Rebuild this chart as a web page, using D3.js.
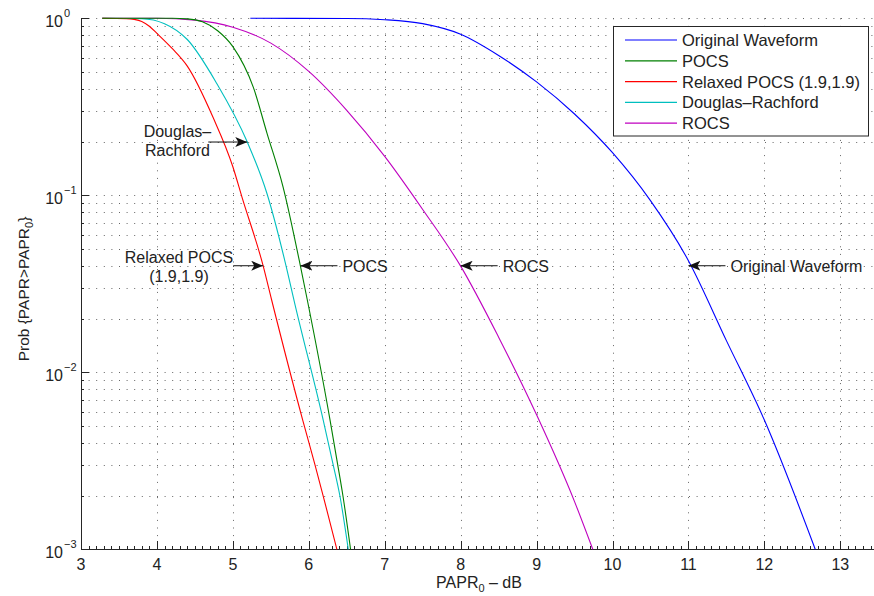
<!DOCTYPE html>
<html>
<head>
<meta charset="utf-8">
<script src="https://cdn.jsdelivr.net/npm/d3@7"></script>
<style>
  html, body { margin: 0; padding: 0; background: #fff; }
  svg { display: block; font-family: "Liberation Sans", Arial, Helvetica, sans-serif; }
</style>
</head>
<body>
<svg id="chart" width="874" height="596"></svg>
<script>
// ---------- data ----------
const seriesNames = ["Original Waveform", "POCS", "Relaxed POCS (1.9,1.9)", "Douglas\u2013Rachford", "ROCS"];
const seriesColors = ["#0000ff", "#007f00", "#ff0000", "#00bfbf", "#bf00bf"];

const origX = [5.23, 6.5, 7.0, 7.5, 8.0, 8.5, 9.0, 9.5, 10.0, 10.5, 11.0, 11.5, 12.0, 12.67];
const origP = [1, 0.998, 0.982, 0.933, 0.813, 0.617, 0.437, 0.288, 0.174, 0.0933, 0.0427, 0.0151, 0.00537, 0.001];

const pocsX = [3.28, 4.2, 4.4, 4.6, 4.8, 5.0, 5.27, 5.45, 5.66, 5.89, 5.98, 6.28, 6.38, 6.45, 6.55];
const pocsP = [1, 1, 0.993, 0.955, 0.851, 0.692, 0.407, 0.224, 0.112, 0.0398, 0.0257, 0.00537, 0.00302, 0.002, 0.001];

const relaxX = [3.28, 3.6, 3.7, 3.8, 3.9, 4.0, 4.2, 4.4, 4.74, 5.0, 5.12, 5.40, 5.51, 5.92, 6.08, 6.19, 6.37];
const relaxP = [1, 0.995, 0.986, 0.96, 0.902, 0.822, 0.676, 0.537, 0.275, 0.145, 0.0977, 0.0398, 0.0257, 0.00537, 0.00302, 0.002, 0.001];

const drX = [3.28, 3.8, 4.1, 4.4, 4.79, 5.19, 5.45, 5.69, 5.82, 6.19, 6.32, 6.41, 6.52];
const drP = [1, 0.995, 0.933, 0.759, 0.427, 0.2, 0.102, 0.0417, 0.024, 0.00537, 0.00302, 0.002, 0.001];

const rocsX = [3.28, 4.0, 4.5, 5.0, 5.5, 6.0, 6.5, 7.0, 7.5, 8.0, 8.5, 9.0, 9.5, 9.74];
const rocsP = [1, 1, 0.977, 0.891, 0.724, 0.501, 0.302, 0.166, 0.0832, 0.0398, 0.0158, 0.00575, 0.00186, 0.001];

const xTicks = [3, 4, 5, 6, 7, 8, 9, 10, 11, 12, 13];
const yTicks = [1e-3, 1e-2, 1e-1, 1];
const yTickExp = ["\u22123", "\u22122", "\u22121", "0"];

// annotations: label lines, arrow target (data coords), direction
const annotations = [
  { lines: ["Douglas\u2013", "Rachford"], x: 5.19, p: 0.2, dir: "right" },
  { lines: ["Relaxed POCS", "(1.9,1.9)"], x: 5.40, p: 0.04, dir: "right" },
  { lines: ["POCS"], x: 5.89, p: 0.04, dir: "left" },
  { lines: ["ROCS"], x: 8.0, p: 0.04, dir: "left" },
  { lines: ["Original Waveform"], x: 11.0, p: 0.04, dir: "left" }
];

(function () {
// ---------- layout ----------
const svg = d3.select("#chart");
const pL = 81, pT = 18.3, pB = 549.3, pR = 874;
const pxPerUnit = 75.93;
const x = d3.scaleLinear().domain([3, 13.5]).range([pL, pL + 10.5 * pxPerUnit]);
const y = d3.scaleLog().domain([1e-3, 1]).range([pB, pT]);
const textColor = "#222";
const fontSize = 16;

// ---------- grid ----------
const grid = svg.append("g").attr("stroke", "#666").attr("stroke-width", 1)
  .attr("stroke-dasharray", "1 6.6").attr("fill", "none");
const yGridVals = [];
[1e-3, 1e-2, 1e-1].forEach(d => { for (let k = 1; k <= 9; k++) yGridVals.push(d * k); });
yGridVals.push(1);
yGridVals.forEach(v => {
  if (v === 1e-3) return;
  const yy = Math.round(y(v)) + 0.5;
  grid.append("line").attr("x1", pL).attr("x2", pR).attr("y1", yy).attr("y2", yy);
});
xTicks.forEach(v => {
  if (v === 3) return;
  const xx = Math.round(x(v)) + 0.5;
  grid.append("line").attr("x1", xx).attr("x2", xx).attr("y1", pT).attr("y2", pB);
});

// ---------- axes ----------
const axisG = svg.append("g").attr("stroke", "#262626").attr("stroke-width", 1);
axisG.append("line").attr("x1", pL).attr("x2", pR)
  .attr("y1", Math.round(pB) + 0.5).attr("y2", Math.round(pB) + 0.5);
axisG.append("line").attr("x1", pL + 0.5).attr("x2", pL + 0.5)
  .attr("y1", pT).attr("y2", pB + 0.5);

// x minor ticks every 0.1
d3.range(30, 136).map(i => i / 10).forEach(v => {
  const xx = Math.round(x(v)) + 0.5;
  if (xx > pR) return;
  axisG.append("line").attr("x1", xx).attr("x2", xx)
    .attr("y1", Math.round(pB)).attr("y2", Math.round(pB) - 3);
});
// x major ticks + labels
xTicks.forEach(v => {
  const xx = Math.round(x(v)) + 0.5;
  axisG.append("line").attr("x1", xx).attr("x2", xx)
    .attr("y1", Math.round(pB)).attr("y2", Math.round(pB) - 8);
  svg.append("text").attr("x", x(v)).attr("y", pB + 21)
    .attr("text-anchor", "middle").attr("font-size", fontSize).attr("fill", textColor)
    .text(v);
});
// y ticks
yGridVals.forEach(v => {
  const yy = Math.round(y(v)) + 0.5;
  const isMajor = yTicks.some(t => Math.abs(t - v) / t < 1e-9);
  axisG.append("line").attr("x1", pL).attr("x2", pL + (isMajor ? 8 : 3))
    .attr("y1", yy).attr("y2", yy);
});
// y labels
yTicks.forEach((v, i) => {
  const yy = y(v);
  svg.append("text").attr("x", 63).attr("y", yy + 8.5)
    .attr("text-anchor", "end").attr("font-size", fontSize).attr("fill", textColor).text("10");
  svg.append("text").attr("x", 64).attr("y", yy - 1.5)
    .attr("text-anchor", "start").attr("font-size", 11).attr("fill", textColor).text(yTickExp[i]);
});

// axis titles
const xl = svg.append("text").attr("x", 479).attr("y", 588).attr("text-anchor", "middle")
  .attr("font-size", fontSize).attr("fill", textColor);
xl.append("tspan").text("PAPR");
xl.append("tspan").attr("font-size", 11).attr("dy", 4).text("0");
xl.append("tspan").attr("dy", -4).text(" \u2013 dB");

const yl = svg.append("text").attr("transform", "translate(29,289) rotate(-90)")
  .attr("text-anchor", "middle").attr("font-size", 15.5).attr("fill", textColor);
yl.append("tspan").text("Prob {PAPR>PAPR");
yl.append("tspan").attr("font-size", 11).attr("dy", 4).text("0");
yl.append("tspan").attr("dy", -4).text("}");

// ---------- curves ----------
const allSeries = [
  { xs: origX, ps: origP },
  { xs: pocsX, ps: pocsP },
  { xs: relaxX, ps: relaxP },
  { xs: drX, ps: drP },
  { xs: rocsX, ps: rocsP }
];
const line = d3.line().x(d => x(d[0])).y(d => y(d[1])).curve(d3.curveMonotoneX);
[4, 3, 2, 1, 0].forEach(i => {
  const s = allSeries[i];
  const pts = s.xs.map((xv, j) => [xv, s.ps[j]]);
  svg.append("path").attr("d", line(pts)).attr("fill", "none")
    .attr("stroke", seriesColors[i]).attr("stroke-width", 1.1);
});

// ---------- annotations ----------
const defs = svg.append("defs");
defs.append("marker").attr("id", "ah").attr("viewBox", "0 0 12 10")
  .attr("refX", 12).attr("refY", 5).attr("markerWidth", 12).attr("markerHeight", 10)
  .attr("markerUnits", "userSpaceOnUse").attr("orient", "auto")
  .append("path").attr("d", "M0,0 L12,5 L0,10 L3,5 Z").attr("fill", "#111");

annotations.forEach(a => {
  const tx = x(a.x), ty = y(a.p);
  const twoLong = a.lines[0].length > 9;
  const len = (a.dir === "right") ? (twoLong ? 30 : 39) : 37;
  if (a.dir === "right") {
    const x0 = tx - len;
    svg.append("line").attr("x1", x0).attr("y1", ty).attr("x2", tx).attr("y2", ty)
      .attr("stroke", "#111").attr("stroke-width", 1).attr("marker-end", "url(#ah)");
    const t = svg.append("text").attr("font-size", fontSize).attr("fill", textColor)
      .attr("text-anchor", "middle");
    a.lines.forEach((ln, k) => {
      t.append("tspan").attr("x", 0).attr("y", 0).attr("dy", k * 19).text(ln);
    });
    const w = t.node().getBBox().width;
    const cx = x0 - w / 2 + (twoLong ? 0 : 3);
    const by = twoLong ? ty - 3 : ty - 5;
    t.selectAll("tspan").attr("x", cx).attr("y", by);
  } else {
    const x0 = tx + len;
    svg.append("line").attr("x1", x0).attr("y1", ty).attr("x2", tx).attr("y2", ty)
      .attr("stroke", "#111").attr("stroke-width", 1).attr("marker-end", "url(#ah)");
    svg.append("text").attr("x", x0 + 5).attr("y", ty + 6).attr("font-size", fontSize)
      .attr("fill", textColor).text(a.lines[0]);
  }
});

// ---------- legend ----------
const lg = svg.append("g");
lg.append("rect").attr("x", 613.5).attr("y", 26.5).attr("width", 255).attr("height", 109.5)
  .attr("fill", "#fff").attr("stroke", "#262626").attr("stroke-width", 1);
seriesNames.forEach((n, i) => {
  const yy = 40 + i * 20.8;
  lg.append("line").attr("x1", 625).attr("x2", 677).attr("y1", yy).attr("y2", yy)
    .attr("stroke", seriesColors[i]).attr("stroke-width", 1.2);
  lg.append("text").attr("x", 682).attr("y", yy + 6).attr("font-size", 16.5)
    .attr("fill", textColor).text(n);
});
})();
</script>
</body>
</html>
